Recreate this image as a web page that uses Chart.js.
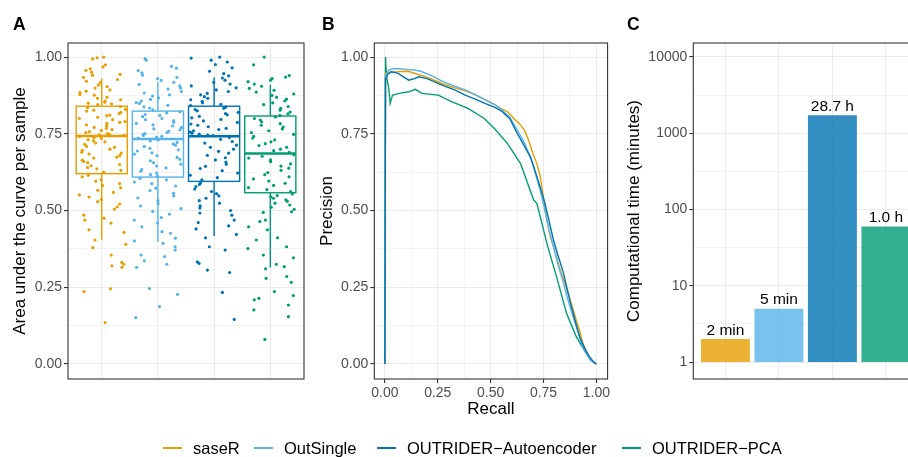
<!DOCTYPE html>
<html>
<head>
<meta charset="utf-8">
<script src="https://cdn.jsdelivr.net/npm/chart.js@4.4.1/dist/chart.umd.min.js"></script>
<style>
  html, body { margin: 0; padding: 0; background: #fff; }
  #wrap { position: relative; width: 908px; height: 457px; overflow: hidden; font-family: "Liberation Sans", Arial, sans-serif; }
  canvas { position: absolute; top: 0; }
  .tag { position: absolute; top: 16px; font-size: 17.5px; font-weight: bold; line-height: 1; color: #000; }
  .item { position: absolute; top: 438px; height: 20px; display: flex; align-items: center; font-size: 16.5px; color: #000; white-space: nowrap; }
  .key { display: inline-block; width: 19px; height: 1.6px; margin-right: 11px; }
</style>
</head>
<body>
<div id="wrap">
  <canvas id="panelA" width="310" height="457" style="left:0"></canvas>
  <canvas id="panelB" width="302" height="457" style="left:310px"></canvas>
  <canvas id="panelC" width="320" height="457" style="left:612px"></canvas>
  <div class="tag" style="left:13px">A</div>
  <div class="tag" style="left:322px">B</div>
  <div class="tag" style="left:627px">C</div>
  <div id="legend"></div>
</div>
<script>
// methods, shared by all three panels
const methods = ["saseR", "OutSingle", "OUTRIDER\u2212Autoencoder", "OUTRIDER\u2212PCA"];
const colors = ["#E69F00", "#56B4E9", "#0072B2", "#009E73"];
const barColors = ["rgba(230,159,0,0.8)", "rgba(86,180,233,0.8)", "rgba(0,114,178,0.8)", "rgba(0,158,115,0.8)"];

// Panel A: AUC per sample
const aucSaseR = [1.0, 0.998, 0.994, 0.975, 0.968, 0.962, 0.957, 0.951, 0.944, 0.941, 0.934, 0.927, 0.921, 0.917, 0.909, 0.904, 0.899, 0.893, 0.889, 0.884, 0.878, 0.876, 0.869, 0.866, 0.861, 0.857, 0.853, 0.85, 0.848, 0.845,
  0.839, 0.836, 0.83, 0.827, 0.824, 0.82, 0.816, 0.811, 0.809, 0.804, 0.8, 0.796, 0.79, 0.787, 0.784, 0.779, 0.776, 0.771, 0.768, 0.764, 0.761, 0.757, 0.754, 0.751, 0.749, 0.747, 0.745,
  0.741, 0.737, 0.735, 0.731, 0.727, 0.724, 0.72, 0.716, 0.709, 0.706, 0.7, 0.696, 0.69, 0.687, 0.684, 0.679, 0.674, 0.671, 0.664, 0.66, 0.656, 0.65, 0.646, 0.64, 0.636, 0.631, 0.625,
  0.615, 0.61, 0.601, 0.596, 0.588, 0.581, 0.574, 0.566, 0.559, 0.551, 0.544, 0.536, 0.529, 0.521, 0.512, 0.505, 0.485, 0.475, 0.469, 0.459, 0.437, 0.429, 0.404, 0.39, 0.379, 0.355, 0.331, 0.325, 0.32, 0.315, 0.245, 0.236, 0.135];
const aucOutSingle = [0.995, 0.99, 0.97, 0.964, 0.956, 0.949, 0.941, 0.934, 0.93, 0.924, 0.918, 0.911, 0.906, 0.899, 0.896, 0.888, 0.883, 0.877, 0.873, 0.867, 0.862, 0.857, 0.852, 0.849, 0.843, 0.838, 0.834, 0.828,
  0.822, 0.818, 0.813, 0.81, 0.806, 0.8, 0.796, 0.793, 0.788, 0.784, 0.779, 0.776, 0.771, 0.766, 0.763, 0.759, 0.755, 0.751, 0.748, 0.745, 0.742, 0.739, 0.736,
  0.73, 0.727, 0.722, 0.717, 0.713, 0.709, 0.703, 0.698, 0.694, 0.688, 0.684, 0.679, 0.673, 0.667, 0.662, 0.656, 0.651, 0.645, 0.639, 0.634, 0.628, 0.622, 0.617, 0.612,
  0.605, 0.6, 0.593, 0.588, 0.58, 0.573, 0.565, 0.556, 0.548, 0.541, 0.532, 0.523, 0.515, 0.506, 0.497, 0.488, 0.477, 0.469, 0.459, 0.447, 0.431, 0.426, 0.41, 0.401, 0.393, 0.382, 0.371, 0.355, 0.35, 0.336, 0.325, 0.315, 0.246, 0.227, 0.187, 0.151];
const aucAutoenc = [1.0, 0.997, 0.99, 0.984, 0.976, 0.965, 0.954, 0.946, 0.939, 0.932, 0.925, 0.918, 0.912, 0.906, 0.9, 0.893, 0.888, 0.882, 0.877, 0.871, 0.866, 0.861, 0.856, 0.851, 0.846, 0.842,
  0.837, 0.833, 0.829, 0.825, 0.82, 0.816, 0.812, 0.807, 0.802, 0.797, 0.792, 0.787, 0.782, 0.778, 0.773, 0.768, 0.764, 0.76, 0.756, 0.752, 0.749, 0.746, 0.744,
  0.738, 0.732, 0.725, 0.72, 0.713, 0.706, 0.7, 0.693, 0.687, 0.68, 0.672, 0.665, 0.658, 0.651, 0.644, 0.637, 0.63, 0.622, 0.615, 0.607, 0.6,
  0.59, 0.585, 0.578, 0.57, 0.562, 0.555, 0.548, 0.54, 0.532, 0.524, 0.515, 0.508, 0.5, 0.492, 0.485, 0.469, 0.461, 0.45, 0.44, 0.422, 0.411, 0.382, 0.371, 0.333, 0.328, 0.306, 0.298, 0.233, 0.145];
const aucPCA = [1.0, 0.975, 0.94, 0.935, 0.93, 0.925, 0.92, 0.912, 0.905, 0.898, 0.892, 0.886, 0.88, 0.875, 0.869, 0.863, 0.857, 0.851, 0.845, 0.839, 0.833, 0.827, 0.821, 0.815, 0.81,
  0.805, 0.8, 0.795, 0.789, 0.783, 0.778, 0.772, 0.766, 0.76, 0.754, 0.748, 0.742, 0.736, 0.73, 0.724, 0.718, 0.712, 0.706, 0.7, 0.695, 0.69,
  0.682, 0.677, 0.671, 0.665, 0.659, 0.652, 0.645, 0.638, 0.631, 0.624, 0.617, 0.61, 0.603, 0.596, 0.589, 0.582, 0.575, 0.568, 0.562,
  0.554, 0.549, 0.545, 0.54, 0.535, 0.53, 0.524, 0.518, 0.511, 0.504, 0.496, 0.494, 0.469, 0.464, 0.447, 0.437, 0.411, 0.404, 0.382, 0.376, 0.355, 0.346, 0.325, 0.317, 0.31, 0.285, 0.279, 0.266, 0.236, 0.223, 0.214, 0.209, 0.192, 0.176, 0.154, 0.08];
const aucPoints = [aucSaseR, aucOutSingle, aucAutoenc, aucPCA];

// box plot statistics (whisker ends, quartiles, median)
const boxLower  = [0.404, 0.398, 0.417, 0.314];
const boxQ1     = [0.620, 0.609, 0.595, 0.558];
const boxMedian = [0.743, 0.733, 0.742, 0.686];
const boxQ3     = [0.840, 0.824, 0.840, 0.808];
const boxUpper  = [0.930, 0.918, 0.934, 0.910];

// Panel B: precision-recall curves
const recallSaseR = [0, 0.003, 0.02, 0.05, 0.08, 0.11, 0.15, 0.2, 0.27, 0.33, 0.38, 0.43, 0.47, 0.52, 0.55, 0.58, 0.61, 0.64, 0.66, 0.68, 0.70, 0.72, 0.735, 0.76, 0.78, 0.80, 0.83, 0.86, 0.885, 0.905, 0.92, 0.935, 0.95, 0.967, 0.985, 1.0];
const precSaseR   = [0, 0.948, 0.95, 0.952, 0.953, 0.954, 0.945, 0.935, 0.914, 0.9, 0.89, 0.876, 0.862, 0.845, 0.832, 0.822, 0.80, 0.78, 0.762, 0.728, 0.685, 0.65, 0.61, 0.49, 0.42, 0.375, 0.305, 0.245, 0.19, 0.143, 0.11, 0.07, 0.045, 0.02, 0.006, 0];
const recallOutSingle = [0, 0.003, 0.02, 0.04, 0.07, 0.1, 0.14, 0.17, 0.22, 0.27, 0.33, 0.38, 0.43, 0.47, 0.52, 0.55, 0.59, 0.63, 0.66, 0.69, 0.71, 0.734, 0.753, 0.775, 0.797, 0.82, 0.843, 0.865, 0.89, 0.91, 0.935, 0.955, 0.975, 1.0];
const precOutSingle   = [0, 0.94, 0.958, 0.963, 0.962, 0.96, 0.958, 0.954, 0.94, 0.922, 0.905, 0.893, 0.877, 0.862, 0.845, 0.83, 0.805, 0.757, 0.72, 0.67, 0.625, 0.567, 0.512, 0.44, 0.382, 0.32, 0.268, 0.21, 0.154, 0.11, 0.056, 0.03, 0.01, 0];
const recallAutoenc = [0, 0.003, 0.015, 0.03, 0.06, 0.09, 0.113, 0.14, 0.16, 0.2, 0.27, 0.33, 0.38, 0.43, 0.47, 0.52, 0.55, 0.59, 0.626, 0.66, 0.688, 0.71, 0.734, 0.753, 0.775, 0.797, 0.82, 0.843, 0.874, 0.9, 0.921, 0.945, 0.967, 0.985, 1.0];
const precAutoenc   = [0, 0.93, 0.945, 0.952, 0.948, 0.935, 0.925, 0.93, 0.936, 0.93, 0.909, 0.893, 0.876, 0.862, 0.85, 0.836, 0.825, 0.80, 0.751, 0.71, 0.675, 0.63, 0.577, 0.534, 0.47, 0.404, 0.35, 0.30, 0.208, 0.14, 0.089, 0.05, 0.024, 0.008, 0];
const recallPCA = [0, 0.003, 0.008, 0.018, 0.025, 0.036, 0.067, 0.113, 0.144, 0.175, 0.253, 0.315, 0.393, 0.47, 0.517, 0.579, 0.641, 0.703, 0.719, 0.742, 0.766, 0.79, 0.812, 0.835, 0.859, 0.883, 0.905, 0.93, 0.952, 0.975, 1.0];
const precPCA   = [0, 1.0, 0.936, 0.9, 0.849, 0.876, 0.882, 0.887, 0.895, 0.882, 0.876, 0.855, 0.833, 0.80, 0.768, 0.719, 0.654, 0.535, 0.523, 0.46, 0.393, 0.335, 0.284, 0.225, 0.165, 0.125, 0.089, 0.06, 0.035, 0.013, 0];
const prCurves = [[recallSaseR, precSaseR], [recallOutSingle, precOutSingle], [recallAutoenc, precAutoenc], [recallPCA, precPCA]];
const prDrawOrder = [2, 1, 0, 3]; // lower = drawn later (on top)

// Panel C: run time
const timeMinutes = [2, 5, 1722, 60];
const timeLabels = ["2 min", "5 min", "28.7 h", "1.0 h"];

// tick labels
const unitTicks = [0, 0.25, 0.5, 0.75, 1];
const timeTicks = [1, 10, 100, 1000, 10000];

const FONT = '"Liberation Sans", Arial, Helvetica, sans-serif';
Chart.defaults.font.family = FONT;
Chart.defaults.animation = false;
Chart.defaults.plugins.legend.display = false;
Chart.defaults.plugins.tooltip.enabled = false;

const tickFont = { size: 14 };
const titleFont = { size: 17 };

// minor breaks halfway between majors (in log space for the time axis)
function withMinors(major, log) {
  const out = [];
  major.forEach((v, i) => {
    out.push(v);
    if (i < major.length - 1) out.push(log ? Math.sqrt(v * major[i + 1]) : (v + major[i + 1]) / 2);
  });
  return out;
}

function gridFor(major, ticks) {
  const isMajor = ctx => ctx.tick && major.some(m => Math.abs(m - ctx.tick.value) < 1e-9);
  return {
    color: "#EBEBEB",
    offset: false,
    lineWidth: ctx => (isMajor(ctx) ? 1.1 : 0.6),
    drawTicks: ticks,
    tickLength: 4,
    tickWidth: 1.1,
    tickColor: ctx => (isMajor(ctx) ? "#333333" : "rgba(0,0,0,0)")
  };
}

const frame = {
  id: "frame",
  afterDraw(chart) {
    const { ctx, chartArea: a } = chart;
    ctx.save();
    ctx.strokeStyle = "#333333";
    ctx.lineWidth = 1.1;
    ctx.strokeRect(a.left, a.top, a.right - a.left, a.bottom - a.top);
    ctx.restore();
  }
};

const catAxis = (height) => ({
  type: "linear",
  min: 0.4,
  max: 4.6,
  offset: false,
  afterBuildTicks: s => { s.ticks = [1, 2, 3, 4].map(v => ({ value: v })); },
  afterFit: s => { s.height = height; },
  ticks: { display: false },
  grid: gridFor([1, 2, 3, 4], false),
  border: { display: false }
});

const unitAxis = (width, title, titlePad) => ({
  type: "linear",
  min: -0.049,
  max: 1.046,
  afterBuildTicks: s => { s.ticks = withMinors(unitTicks).map(v => ({ value: v })); },
  afterFit: s => { s.width = width; },
  ticks: {
    autoSkip: false, padding: 2, color: "#4D4D4D", font: tickFont,
    callback: v => (unitTicks.includes(v) ? v.toFixed(2) : "")
  },
  grid: gridFor(unitTicks, true),
  border: { display: false },
  title: { display: true, text: title, color: "#000", font: titleFont, padding: { top: titlePad, bottom: 0 } }
});

// ---- Panel A: boxplots with jittered points
const boxPlugin = {
  id: "boxes",
  afterDatasetsDraw(chart) {
    const { ctx, scales: { x, y } } = chart;
    ctx.save();
    methods.forEach((m, i) => {
      const c = i + 1;
      const xl = x.getPixelForValue(c - 0.455);
      const xr = x.getPixelForValue(c + 0.455);
      const xc = x.getPixelForValue(c);
      const top = y.getPixelForValue(boxQ3[i]);
      const bot = y.getPixelForValue(boxQ1[i]);
      ctx.strokeStyle = colors[i];
      ctx.lineWidth = 1.4;
      ctx.beginPath();
      ctx.moveTo(xc, y.getPixelForValue(boxUpper[i]));
      ctx.lineTo(xc, top);
      ctx.moveTo(xc, bot);
      ctx.lineTo(xc, y.getPixelForValue(boxLower[i]));
      ctx.stroke();
      ctx.strokeRect(xl, top, xr - xl, bot - top);
      const ym = y.getPixelForValue(boxMedian[i]);
      ctx.lineWidth = 2.6;
      ctx.beginPath();
      ctx.moveTo(xl, ym);
      ctx.lineTo(xr, ym);
      ctx.stroke();
    });
    ctx.restore();
  }
};

// deterministic horizontal jitter in category units (integer hash of the point index)
function jitter(i) {
  let h = Math.imul(i + 1, 0x9E3779B1) >>> 0;
  h = Math.imul(h ^ (h >>> 15), 0x85EBCA6B) >>> 0;
  h = Math.imul(h ^ (h >>> 13), 0xC2B2AE35) >>> 0;
  h = (h ^ (h >>> 16)) >>> 0;
  return (h / 4294967296 - 0.5) * 0.86;
}

new Chart(document.getElementById("panelA"), {
  type: "scatter",
  data: {
    datasets: aucPoints.map((vals, k) => ({
      label: methods[k],
      data: vals.map((v, i) => ({ x: k + 1 + jitter(i + 200 * k), y: v })),
      backgroundColor: colors[k],
      pointRadius: 1.6,
      pointBorderWidth: 0
    }))
  },
  options: {
    responsive: false,
    layout: { padding: { left: 0, top: 43, right: 6, bottom: 0 } },
    scales: {
      x: catAxis(78),
      y: unitAxis(68, "Area under the curve per sample", 9.8)
    }
  },
  plugins: [boxPlugin, frame]
});

// ---- Panel B: precision-recall
new Chart(document.getElementById("panelB"), {
  type: "line",
  data: {
    datasets: prCurves.map(([r, p], k) => ({
      label: methods[k],
      data: r.map((v, i) => ({ x: v, y: p[i] })),
      borderColor: colors[k],
      borderWidth: 1.4,
      pointRadius: 0,
      tension: 0,
      order: prDrawOrder[k]
    }))
  },
  options: {
    responsive: false,
    layout: { padding: { left: 0, top: 43, right: 0, bottom: 36 } },
    scales: {
      x: {
        type: "linear",
        min: -0.05,
        max: 1.053,
        afterBuildTicks: s => { s.ticks = withMinors(unitTicks).map(v => ({ value: v })); },
        afterFit: s => { s.height = 42; },
        ticks: {
          autoSkip: false, maxRotation: 0, padding: 2, color: "#4D4D4D", font: tickFont,
          callback: v => (unitTicks.includes(v) ? v.toFixed(2) : "")
        },
        grid: gridFor(unitTicks, true),
        border: { display: false },
        title: { display: true, text: "Recall", color: "#000", font: titleFont, padding: { top: 0, bottom: 1 } }
      },
      y: unitAxis(64.3, "Precision", 6.8)
    }
  },
  plugins: [frame]
});

// ---- Panel C: computational time, log scale
const barText = {
  id: "barText",
  afterDatasetsDraw(chart) {
    const { ctx } = chart;
    const meta = chart.getDatasetMeta(0);
    ctx.save();
    ctx.fillStyle = "#000";
    ctx.font = "15.5px " + FONT;
    ctx.textAlign = "center";
    ctx.textBaseline = "bottom";
    meta.data.forEach((bar, i) => ctx.fillText(timeLabels[i], bar.x, bar.y - 1));
    ctx.restore();
  }
};

new Chart(document.getElementById("panelC"), {
  type: "bar",
  data: {
    datasets: [{
      data: timeMinutes.map((v, i) => ({ x: i + 1, y: [1, v] })),
      backgroundColor: barColors,
      borderWidth: 0,
      barPercentage: 0.915,
      categoryPercentage: 1
    }]
  },
  options: {
    responsive: false,
    layout: { padding: { left: 0, top: 43, right: 14, bottom: 0 } },
    scales: {
      x: catAxis(78),
      y: {
        type: "logarithmic",
        min: 0.6376,
        max: 15218,
        afterBuildTicks: s => { s.ticks = withMinors(timeTicks, true).map(v => ({ value: v })); },
        afterFit: s => { s.width = 81.3; },
        ticks: {
          autoSkip: false, padding: 2, color: "#4D4D4D", font: tickFont,
          callback: v => (timeTicks.includes(v) ? String(v) : "")
        },
        grid: gridFor(timeTicks, true),
        border: { display: false },
        title: { display: true, text: "Computational time (minutes)", color: "#000", font: titleFont, padding: { top: 11.8, bottom: 0 } }
      }
    }
  },
  plugins: [barText, frame]
});

// ---- shared legend
const legendLeft = [163, 254, 377, 622];
const legend = document.getElementById("legend");
methods.forEach((m, i) => {
  const item = document.createElement("div");
  item.className = "item";
  item.style.left = legendLeft[i] + "px";
  item.innerHTML = '<span class="key" style="background:' + colors[i] + '"></span>' + m;
  legend.appendChild(item);
});
</script>
</body>
</html>
